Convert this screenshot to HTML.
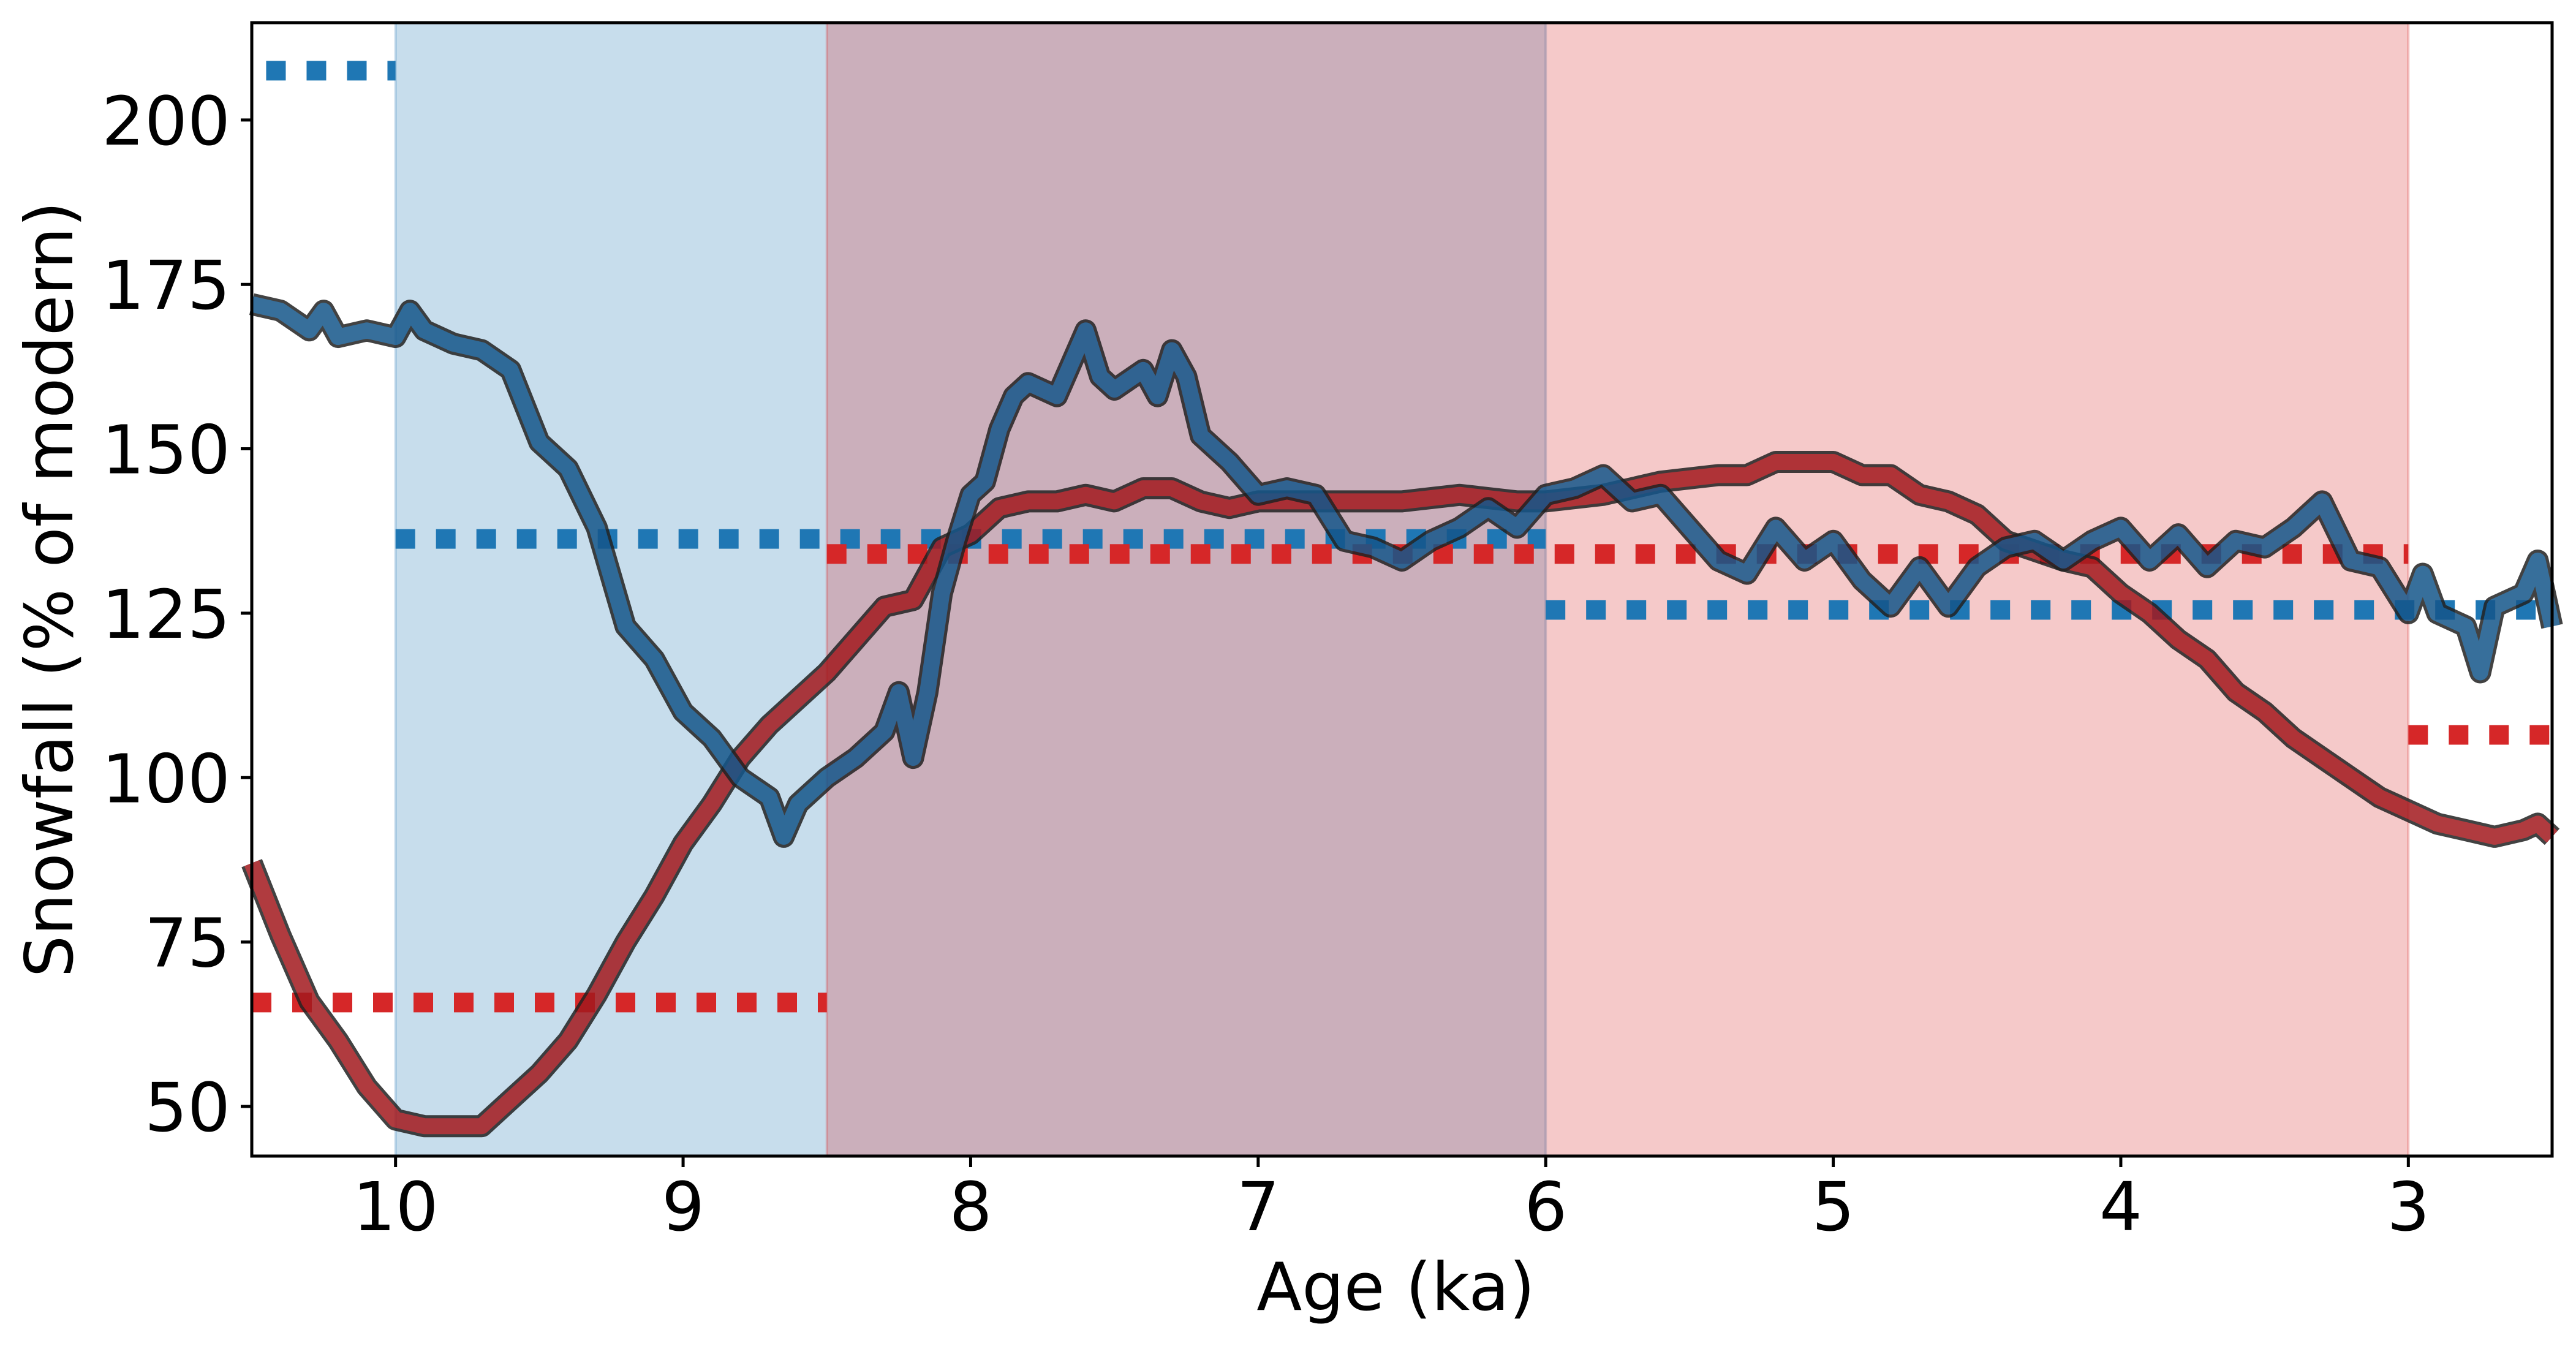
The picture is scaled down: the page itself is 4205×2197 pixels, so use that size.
<!DOCTYPE html>
<html><head><meta charset="utf-8"><style>
html,body{margin:0;padding:0;background:#fff}
svg{display:block}
text{font-family:"DejaVu Sans","Liberation Sans",sans-serif;fill:#000}
</style></head><body>
<svg id="chart" width="4205" height="2197" viewBox="0 0 4205 2197" xmlns="http://www.w3.org/2000/svg">
<g id="spans"></g>
<g id="dots"></g>
<g id="series"></g>
<g id="axes"></g>
</svg>
<script>
const blueAges=[10.5,10.4,10.3,10.25,10.2,10.1,10.0,9.95,9.9,9.8,9.7,9.6,9.5,9.4,9.3,9.2,9.1,9.0,8.9,8.8,8.7,8.65,8.6,8.5,8.4,8.3,8.25,8.2,8.15,8.1,8.05,8.0,7.95,7.9,7.85,7.8,7.7,7.6,7.55,7.5,7.4,7.35,7.3,7.25,7.2,7.1,7.0,6.9,6.8,6.7,6.6,6.5,6.4,6.3,6.2,6.1,6.0,5.9,5.8,5.7,5.6,5.5,5.4,5.3,5.2,5.1,5.0,4.9,4.8,4.7,4.6,4.5,4.4,4.3,4.2,4.1,4.0,3.9,3.8,3.7,3.6,3.5,3.4,3.3,3.2,3.1,3.0,2.95,2.9,2.8,2.75,2.7,2.6,2.55,2.5];
const blueVals=[172,171,168,171,167,168,167,171,168,166,165,162,151,147,138,123,118,110,106,100,97,91,96,100,103,107,113,103,113,128,136,143,145,153,158,160,158,168,161,159,162,158,165,161,152,148,143,144,143,136,135,133,136,138,141,138,143,144,146,142,143,138,133,131,138,133,136,130,126,132,126,132,135,136,133,136,138,133,137,132,136,135,138,142,133,132,125,131,125,123,116,126,128,133,123];
const redAges=[10.5,10.4,10.3,10.2,10.1,10.0,9.9,9.8,9.7,9.6,9.5,9.4,9.3,9.2,9.1,9.0,8.9,8.8,8.7,8.6,8.5,8.4,8.3,8.2,8.1,8.0,7.9,7.8,7.7,7.6,7.5,7.4,7.3,7.2,7.1,7.0,6.9,6.8,6.7,6.5,6.3,6.1,6.0,5.8,5.6,5.4,5.3,5.2,5.1,5.0,4.9,4.8,4.7,4.6,4.5,4.4,4.2,4.1,4.0,3.9,3.8,3.7,3.6,3.5,3.4,3.3,3.2,3.1,3.0,2.9,2.8,2.7,2.6,2.55,2.5];
const redVals=[87,76,66,60,53,48,47,47,47,51,55,60,67,75,82,90,96,103,108,112,116,121,126,127,135,137,141,142,142,143,142,144,144,142,141,142,142,142,142,142,143,142,142,143,145,146,146,148,148,148,146,146,143,142,140,136,133,132,128,125,121,118,113,110,106,103,100,97,95,93,92,91,92,93,91];
const meanStart=[10.45,10.0,6.0,10.5,8.5,3.0];
const meanEnd=[10.0,6.0,2.5,8.5,3.0,2.5];
const meanVals=[207.5,136.3,125.5,65.8,134,106.5];
const meanSeries=['blue','blue','blue','red','red','red'];
const spanStart=[10,8.5];
const spanEnd=[6,3];
const spanSeries=['blue','red'];
const xTicks=[10,9,8,7,6,5,4,3];
const yTicks=[50,75,100,125,150,175,200];

const L=411,R=4166,T=37,B=1887;
const X0=10.5,X1=2.5,Y0=42.45,Y1=214.8;
const sx=v=>L+(X0-v)/(X0-X1)*(R-L);
const sy=v=>B-(v-Y0)/(Y1-Y0)*(B-T);
const NS='http://www.w3.org/2000/svg';
function mk(tag,parent){const e=document.createElementNS(NS,tag);parent.appendChild(e);return e;}
const spans=document.getElementById('spans'),dots=document.getElementById('dots'),series=document.getElementById('series'),axes=document.getElementById('axes');
const colSpan={blue:'rgba(31,119,180,0.25)',red:'rgba(214,39,40,0.25)'};
const colMean={blue:'#1f77b4',red:'#d62728'};
spanStart.forEach((s,i)=>{
 const r=mk('rect',spans);
 
 
 r.setAttribute('x',sx(s));r.setAttribute('y',T);
 r.setAttribute('width',sx(spanEnd[i])-sx(s));r.setAttribute('height',B-T);
 r.setAttribute('fill',colSpan[spanSeries[i]]);
 r.setAttribute('stroke',colSpan[spanSeries[i]]);r.setAttribute('stroke-width','4');
});
meanVals.forEach((v,i)=>{
 const l=mk('line',dots);
 
 
 l.setAttribute('x1',sx(meanStart[i]));l.setAttribute('x2',sx(meanEnd[i]));
 l.setAttribute('y1',sy(v));l.setAttribute('y2',sy(v));
 l.setAttribute('stroke',colMean[meanSeries[i]]);l.setAttribute('stroke-width','32');
 l.setAttribute('stroke-dasharray','32 34');
});
function drawSeries(ages,vals,color,name){
 const d=ages.map((a,i)=>(i?'L':'M')+sx(a).toFixed(1)+','+sy(vals[i]).toFixed(1)).join(' ');
 const g=mk('g',series);
 
 
 g.setAttribute('opacity','0.85');
 const o=mk('path',g);
 
 
 o.setAttribute('d',d);o.setAttribute('fill','none');o.setAttribute('stroke','#222');o.setAttribute('stroke-width','36');o.setAttribute('stroke-linejoin','round');o.setAttribute('stroke-linecap','butt');
 const p=mk('path',g);
 
 
 p.setAttribute('d',d);p.setAttribute('fill','none');p.setAttribute('stroke',color);p.setAttribute('stroke-width','26');p.setAttribute('stroke-linejoin','round');p.setAttribute('stroke-linecap','butt');
}
drawSeries(redAges,redVals,'#a3191e','red-series');
drawSeries(blueAges,blueVals,'#15568a','blue-series');
const frame=mk('rect',axes);


frame.setAttribute('x',L);frame.setAttribute('y',T);frame.setAttribute('width',R-L);frame.setAttribute('height',B-T);
frame.setAttribute('fill','none');frame.setAttribute('stroke','#000');frame.setAttribute('stroke-width','5');
xTicks.forEach(v=>{
 const t=mk('line',axes);
 
 
 t.setAttribute('x1',sx(v));t.setAttribute('x2',sx(v));t.setAttribute('y1',B);t.setAttribute('y2',B+18);t.setAttribute('stroke','#000');t.setAttribute('stroke-width','5');
 const s=mk('text',axes);
 
 
 s.setAttribute('x',sx(v));s.setAttribute('y',2008);s.setAttribute('text-anchor','middle');s.setAttribute('font-size','110');
 s.textContent=v;
});
yTicks.forEach(v=>{
 const t=mk('line',axes);
 
 
 t.setAttribute('x1',L-18);t.setAttribute('x2',L);t.setAttribute('y1',sy(v));t.setAttribute('y2',sy(v));t.setAttribute('stroke','#000');t.setAttribute('stroke-width','5');
 const s=mk('text',axes);
 
 
 s.setAttribute('x',376);s.setAttribute('y',sy(v)+40);s.setAttribute('text-anchor','end');s.setAttribute('font-size','110');
 s.textContent=v;
});
const xl=mk('text',axes);


xl.setAttribute('x',(L+R)/2-10);xl.setAttribute('y',2138);xl.setAttribute('text-anchor','middle');xl.setAttribute('font-size','108');
xl.textContent='Age (ka)';
const yl=mk('text',axes);


yl.setAttribute('transform','translate(118,'+((T+B)/2)+') rotate(-90)');yl.setAttribute('text-anchor','middle');yl.setAttribute('font-size','108');
yl.textContent='Snowfall (% of modern)';
</script>
</body></html>
